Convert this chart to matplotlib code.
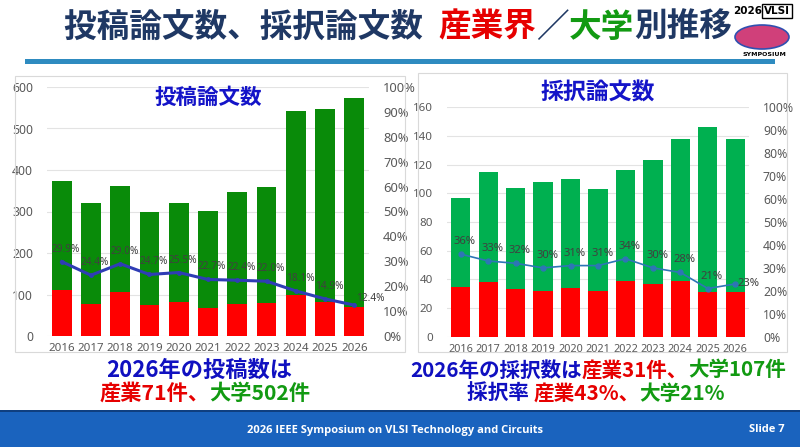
import matplotlib
matplotlib.use("Agg")
import matplotlib.pyplot as plt
from matplotlib.patches import Rectangle, Ellipse
import numpy as np

plt.rcParams['font.family'] = ['Noto Sans CJK JP', 'DejaVu Sans']

# ---------------- data ----------------
years = ['2016', '2017', '2018', '2019', '2020', '2021', '2022', '2023', '2024', '2025', '2026']

# submitted papers
sub_industry = [112, 78, 105, 74, 82, 68, 78, 79, 98, 82, 71]
sub_university = [262, 242, 256, 224, 238, 232, 270, 279, 443, 466, 502]
sub_ratio = [29.9, 24.4, 29.0, 24.7, 25.5, 22.7, 22.4, 22.0, 18.1, 14.9, 12.4]

# accepted papers
acc_industry = [35, 38, 33, 32, 34, 32, 39, 37, 39, 31, 31]
acc_university = [62, 77, 71, 76, 76, 71, 77, 86, 99, 115, 107]
acc_ratio = [36, 33, 32, 30, 31, 31, 34, 30, 28, 21, 23]

left_yticks = [0, 100, 200, 300, 400, 500, 600]
right_yticks = [0, 20, 40, 60, 80, 100, 120, 140, 160]
pct_ticks = [0, 10, 20, 30, 40, 50, 60, 70, 80, 90, 100]

W, H = 800, 447
fig = plt.figure(figsize=(8, 4.47), dpi=100)
fig.patch.set_facecolor('white')

def fx(px):
    return px / W

def fy(py):
    return 1 - py / H

NAVY = '#1F3864'
RED = '#E60000'
GREEN_T = '#129A12'
BLUE_T = '#1010C0'

renderer = fig.canvas.get_renderer()

def rich(xc, y, pieces, fontsize, **kw):
    texts, widths = [], []
    for s, c in pieces:
        t = fig.text(0, y, s, color=c, va='center', ha='left', fontsize=fontsize, **kw)
        bb = t.get_window_extent(renderer)
        texts.append(t)
        widths.append(bb.width)
    total = sum(widths)
    start = xc * fig.bbox.width - total / 2
    for t, w in zip(texts, widths):
        t.set_x(start / fig.bbox.width)
        start += w

# ---------------- slide title ----------------
rich(fx(398), fy(27), [('投稿論文数、採択論文数  ', NAVY), ('産業界', RED), ('／', NAVY),
                       ('大学', GREEN_T), ('別推移', NAVY)], 23.5, fontweight='bold')
fig.add_artist(Rectangle((fx(25), fy(64)), fx(750), 5 / H, transform=fig.transFigure,
                         facecolor='#2E8BC0', edgecolor='none'))

# logo
fig.add_artist(Ellipse((fx(762), fy(37)), 54 / W, 24 / H, transform=fig.transFigure,
                       facecolor='#D0407A', edgecolor='#3050B0', linewidth=1.2))
fig.text(fx(748), fy(11), '2026', fontsize=7.5, fontweight='bold', color='black',
         ha='center', va='center', family='DejaVu Sans')
fig.text(fx(777), fy(11), 'VLSI', fontsize=7.5, fontweight='bold', color='black',
         ha='center', va='center', family='DejaVu Sans',
         bbox=dict(boxstyle='square,pad=0.15', facecolor='white', edgecolor='black', linewidth=1))
fig.text(fx(764), fy(54), 'SYMPOSIUM', fontsize=4.5, fontweight='bold', color='black',
         ha='center', va='center', family='DejaVu Sans')

# panel borders
fig.add_artist(Rectangle((fx(15), fy(352)), fx(390), (352 - 76) / H, transform=fig.transFigure,
                         facecolor='none', edgecolor='#D9D9D9', linewidth=0.8))
fig.add_artist(Rectangle((fx(418), fy(352)), fx(369), (352 - 73) / H, transform=fig.transFigure,
                         facecolor='none', edgecolor='#D9D9D9', linewidth=0.8))

TICKC = '#595959'

def make_chart(rect, ind, uni, ratio, yticks, green, red, linec, lw, ms, barw,
               title, title_xy, title_fs, lblfmt, tfs, lfs, last_dy):
    ax = fig.add_axes(rect)
    x = np.arange(len(years))
    ax.bar(x, ind, width=barw, color=red, zorder=2)
    ax.bar(x, uni, bottom=ind, width=barw, color=green, zorder=2)
    ax.set_xlim(-0.5, len(years) - 0.5)
    ax.set_ylim(yticks[0], yticks[-1])
    ax.set_yticks(yticks)
    ax.set_xticks(x)
    ax.set_xticklabels(years)
    ax.grid(axis='y', color='#E3E3E3', linewidth=0.8, zorder=0)
    ax.set_axisbelow(True)
    for s in ax.spines.values():
        s.set_visible(False)
    ax.tick_params(length=0, colors=TICKC, labelsize=tfs)
    ax.tick_params(axis='y', pad=10, labelsize=tfs + 0.5)
    ax.tick_params(axis='x', pad=5)
    for lab in ax.get_xticklabels() + ax.get_yticklabels():
        lab.set_family('Noto Sans')

    ax2 = ax.twinx()
    ax2.set_ylim(0, 100)
    ax2.set_yticks(pct_ticks)
    ax2.set_yticklabels([f'{v}%' for v in pct_ticks])
    for s in ax2.spines.values():
        s.set_visible(False)
    ax2.tick_params(length=0, colors=TICKC, labelsize=tfs + 1, pad=10)
    for lab in ax2.get_yticklabels():
        lab.set_family('Noto Sans')
    ax2.plot(x, ratio, color=linec, linewidth=lw, marker='o', markersize=ms, zorder=3)
    for i, v in enumerate(ratio):
        if i == len(ratio) - 1:
            ax2.annotate(lblfmt.format(v), (x[i], v), xytext=(1.5, last_dy), textcoords='offset points',
                         ha='left', va='center', fontsize=lfs, color='#404040', family='Noto Sans')
        else:
            ax2.annotate(lblfmt.format(v), (x[i], v), xytext=(3, 9), textcoords='offset points',
                         ha='center', va='center', fontsize=lfs, color='#404040', family='Noto Sans')
    fig.text(title_xy[0], title_xy[1], title, fontsize=title_fs, fontweight='bold', color='#1414C8',
             ha='center', va='center')
    return ax

make_chart([fx(47), fy(336), fx(322), (336 - 87) / H], sub_industry, sub_university, sub_ratio,
           left_yticks, '#098B09', '#FF0000', '#2F3DB5', 2.2, 2.5, 0.68,
           '投稿論文数', (fx(208), fy(97)), 15.5, '{:.1f}%', 8.3, 7.3, 4.5)

make_chart([fx(447), fy(336.7), fx(302), (336.7 - 107.3) / H], acc_industry, acc_university, acc_ratio,
           right_yticks, '#00B050', '#FF0000', '#2E75B6', 1.2, 3.5, 0.7,
           '採択論文数', (fx(598), fy(93)), 16.5, '{:d}%', 7.8, 8.1, 0)

# ---------------- captions ----------------
rich(fx(199), fy(370), [('2026年の投稿数は', BLUE_T)], 16, fontweight='bold')
rich(fx(205), fy(393), [('産業71件、', RED), ('大学502件', GREEN_T)], 15.3, fontweight='bold')
rich(fx(598), fy(370), [('2026年の採択数は', BLUE_T), ('産業31件、', RED),
                        ('大学107件', GREEN_T)], 14.8, fontweight='bold')
rich(fx(596), fy(393), [('採択率 ', BLUE_T), ('産業43%、', RED), ('大学21%', GREEN_T)],
     14.9, fontweight='bold')

# ---------------- footer ----------------
fig.add_artist(Rectangle((0, 0), 1, 35 / H, transform=fig.transFigure,
                         facecolor='#1A63BE', edgecolor='none'))
fig.add_artist(Rectangle((0, 35 / H), 1, 2 / H, transform=fig.transFigure,
                         facecolor='#0F3F80', edgecolor='none'))
fig.text(fx(395), fy(430), '2026 IEEE Symposium on VLSI Technology and Circuits', fontsize=8,
         fontweight='bold', color='white', ha='center', va='center', family='Open Sans')
fig.text(fx(785), fy(430), 'Slide 7', fontsize=8, fontweight='bold', color='white',
         ha='right', va='center', family='Open Sans')

fig.savefig('out.png', dpi=100)
